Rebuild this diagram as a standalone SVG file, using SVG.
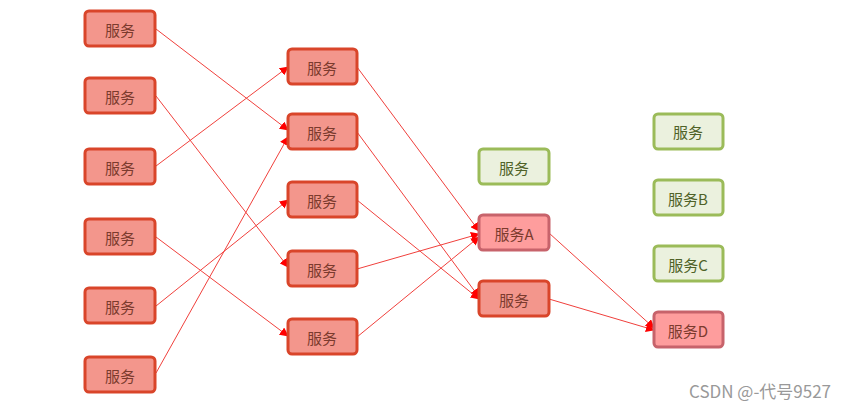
<svg xmlns="http://www.w3.org/2000/svg" width="846" height="402" viewBox="0 0 846 402">
<defs>
<style>
.r rect{fill:#f3968c;stroke:#d9452a;stroke-width:3}
.p rect{fill:#fe9d9d;stroke:#c7636b;stroke-width:3}
.g rect{fill:#ebf1de;stroke:#9bbb59;stroke-width:3}
text{font-family:"Noto Sans CJK SC","Liberation Sans",sans-serif;font-size:15px;text-anchor:middle;dominant-baseline:central}
.r text,.p text{fill:#7b3b2e}
.g text{fill:#4f6228}
.e line{stroke:#f0403c;stroke-width:1;marker-end:url(#a)}
.w{fill:#999;font-family:"Noto Sans CJK SC","Liberation Sans",sans-serif;font-size:17px;text-anchor:start}
</style>
<marker id="a" viewBox="0 0 10 10" refX="9" refY="5" markerWidth="9" markerHeight="9" markerUnits="userSpaceOnUse" orient="auto"><path d="M0,0L10,5L0,10z" fill="#f00"/></marker>
</defs>
<rect width="846" height="402" fill="#fff"/>
<g class="e">
<line x1="156" y1="29" x2="288" y2="130"/>
<line x1="156" y1="96" x2="288" y2="267"/>
<line x1="156" y1="166" x2="288" y2="67"/>
<line x1="156" y1="237" x2="288" y2="336"/>
<line x1="156" y1="306" x2="288" y2="200"/>
<line x1="156" y1="373" x2="288" y2="137"/>
<line x1="357" y1="67" x2="479" y2="231"/>
<line x1="357" y1="132" x2="479" y2="297"/>
<line x1="357" y1="200" x2="479" y2="299"/>
<line x1="357" y1="269" x2="479" y2="234"/>
<line x1="357" y1="337" x2="479" y2="237"/>
<line x1="549" y1="233" x2="654" y2="328"/>
<line x1="549" y1="299" x2="654" y2="330"/>
</g>
<g id="c1n1" class="r"><rect x="85" y="11" width="70" height="35" rx="4"/><text x="120" y="29">服务</text></g>
<g id="c1n2" class="r"><rect x="85" y="78" width="70" height="35" rx="4"/><text x="120" y="96">服务</text></g>
<g id="c1n3" class="r"><rect x="85" y="149" width="70" height="35" rx="4"/><text x="120" y="167">服务</text></g>
<g id="c1n4" class="r"><rect x="85" y="219" width="70" height="35" rx="4"/><text x="120" y="237">服务</text></g>
<g id="c1n5" class="r"><rect x="85" y="288" width="70" height="35" rx="4"/><text x="120" y="306">服务</text></g>
<g id="c1n6" class="r"><rect x="85" y="357" width="70" height="35" rx="4"/><text x="120" y="375">服务</text></g>
<g id="c2n1" class="r"><rect x="288" y="49" width="69" height="35" rx="4"/><text x="322" y="67">服务</text></g>
<g id="c2n2" class="r"><rect x="288" y="114" width="69" height="35" rx="4"/><text x="322" y="132">服务</text></g>
<g id="c2n3" class="r"><rect x="288" y="182" width="69" height="35" rx="4"/><text x="322" y="200">服务</text></g>
<g id="c2n4" class="r"><rect x="288" y="251" width="69" height="35" rx="4"/><text x="322" y="269">服务</text></g>
<g id="c2n5" class="r"><rect x="288" y="319" width="69" height="35" rx="4"/><text x="322" y="337">服务</text></g>
<g id="c3n1" class="g"><rect x="479" y="149" width="70" height="35" rx="4"/><text x="514" y="167">服务</text></g>
<g id="c3nA" class="p"><rect x="479" y="215" width="70" height="35" rx="4"/><text x="514" y="233">服务A</text></g>
<g id="c3n3" class="r"><rect x="479" y="281" width="70" height="35" rx="4"/><text x="514" y="299">服务</text></g>
<g id="c4n1" class="g"><rect x="654" y="114" width="69" height="35" rx="4"/><text x="688" y="131">服务</text></g>
<g id="c4nB" class="g"><rect x="654" y="180" width="69" height="35" rx="4"/><text x="688" y="198">服务B</text></g>
<g id="c4nC" class="g"><rect x="654" y="246" width="69" height="35" rx="4"/><text x="688" y="264">服务C</text></g>
<g id="c4nD" class="p"><rect x="654" y="312" width="69" height="35" rx="4"/><text x="688" y="330">服务D</text></g>
<text class="w" x="689" y="390" dominant-baseline="auto">CSDN @-代号9527</text>
</svg>
